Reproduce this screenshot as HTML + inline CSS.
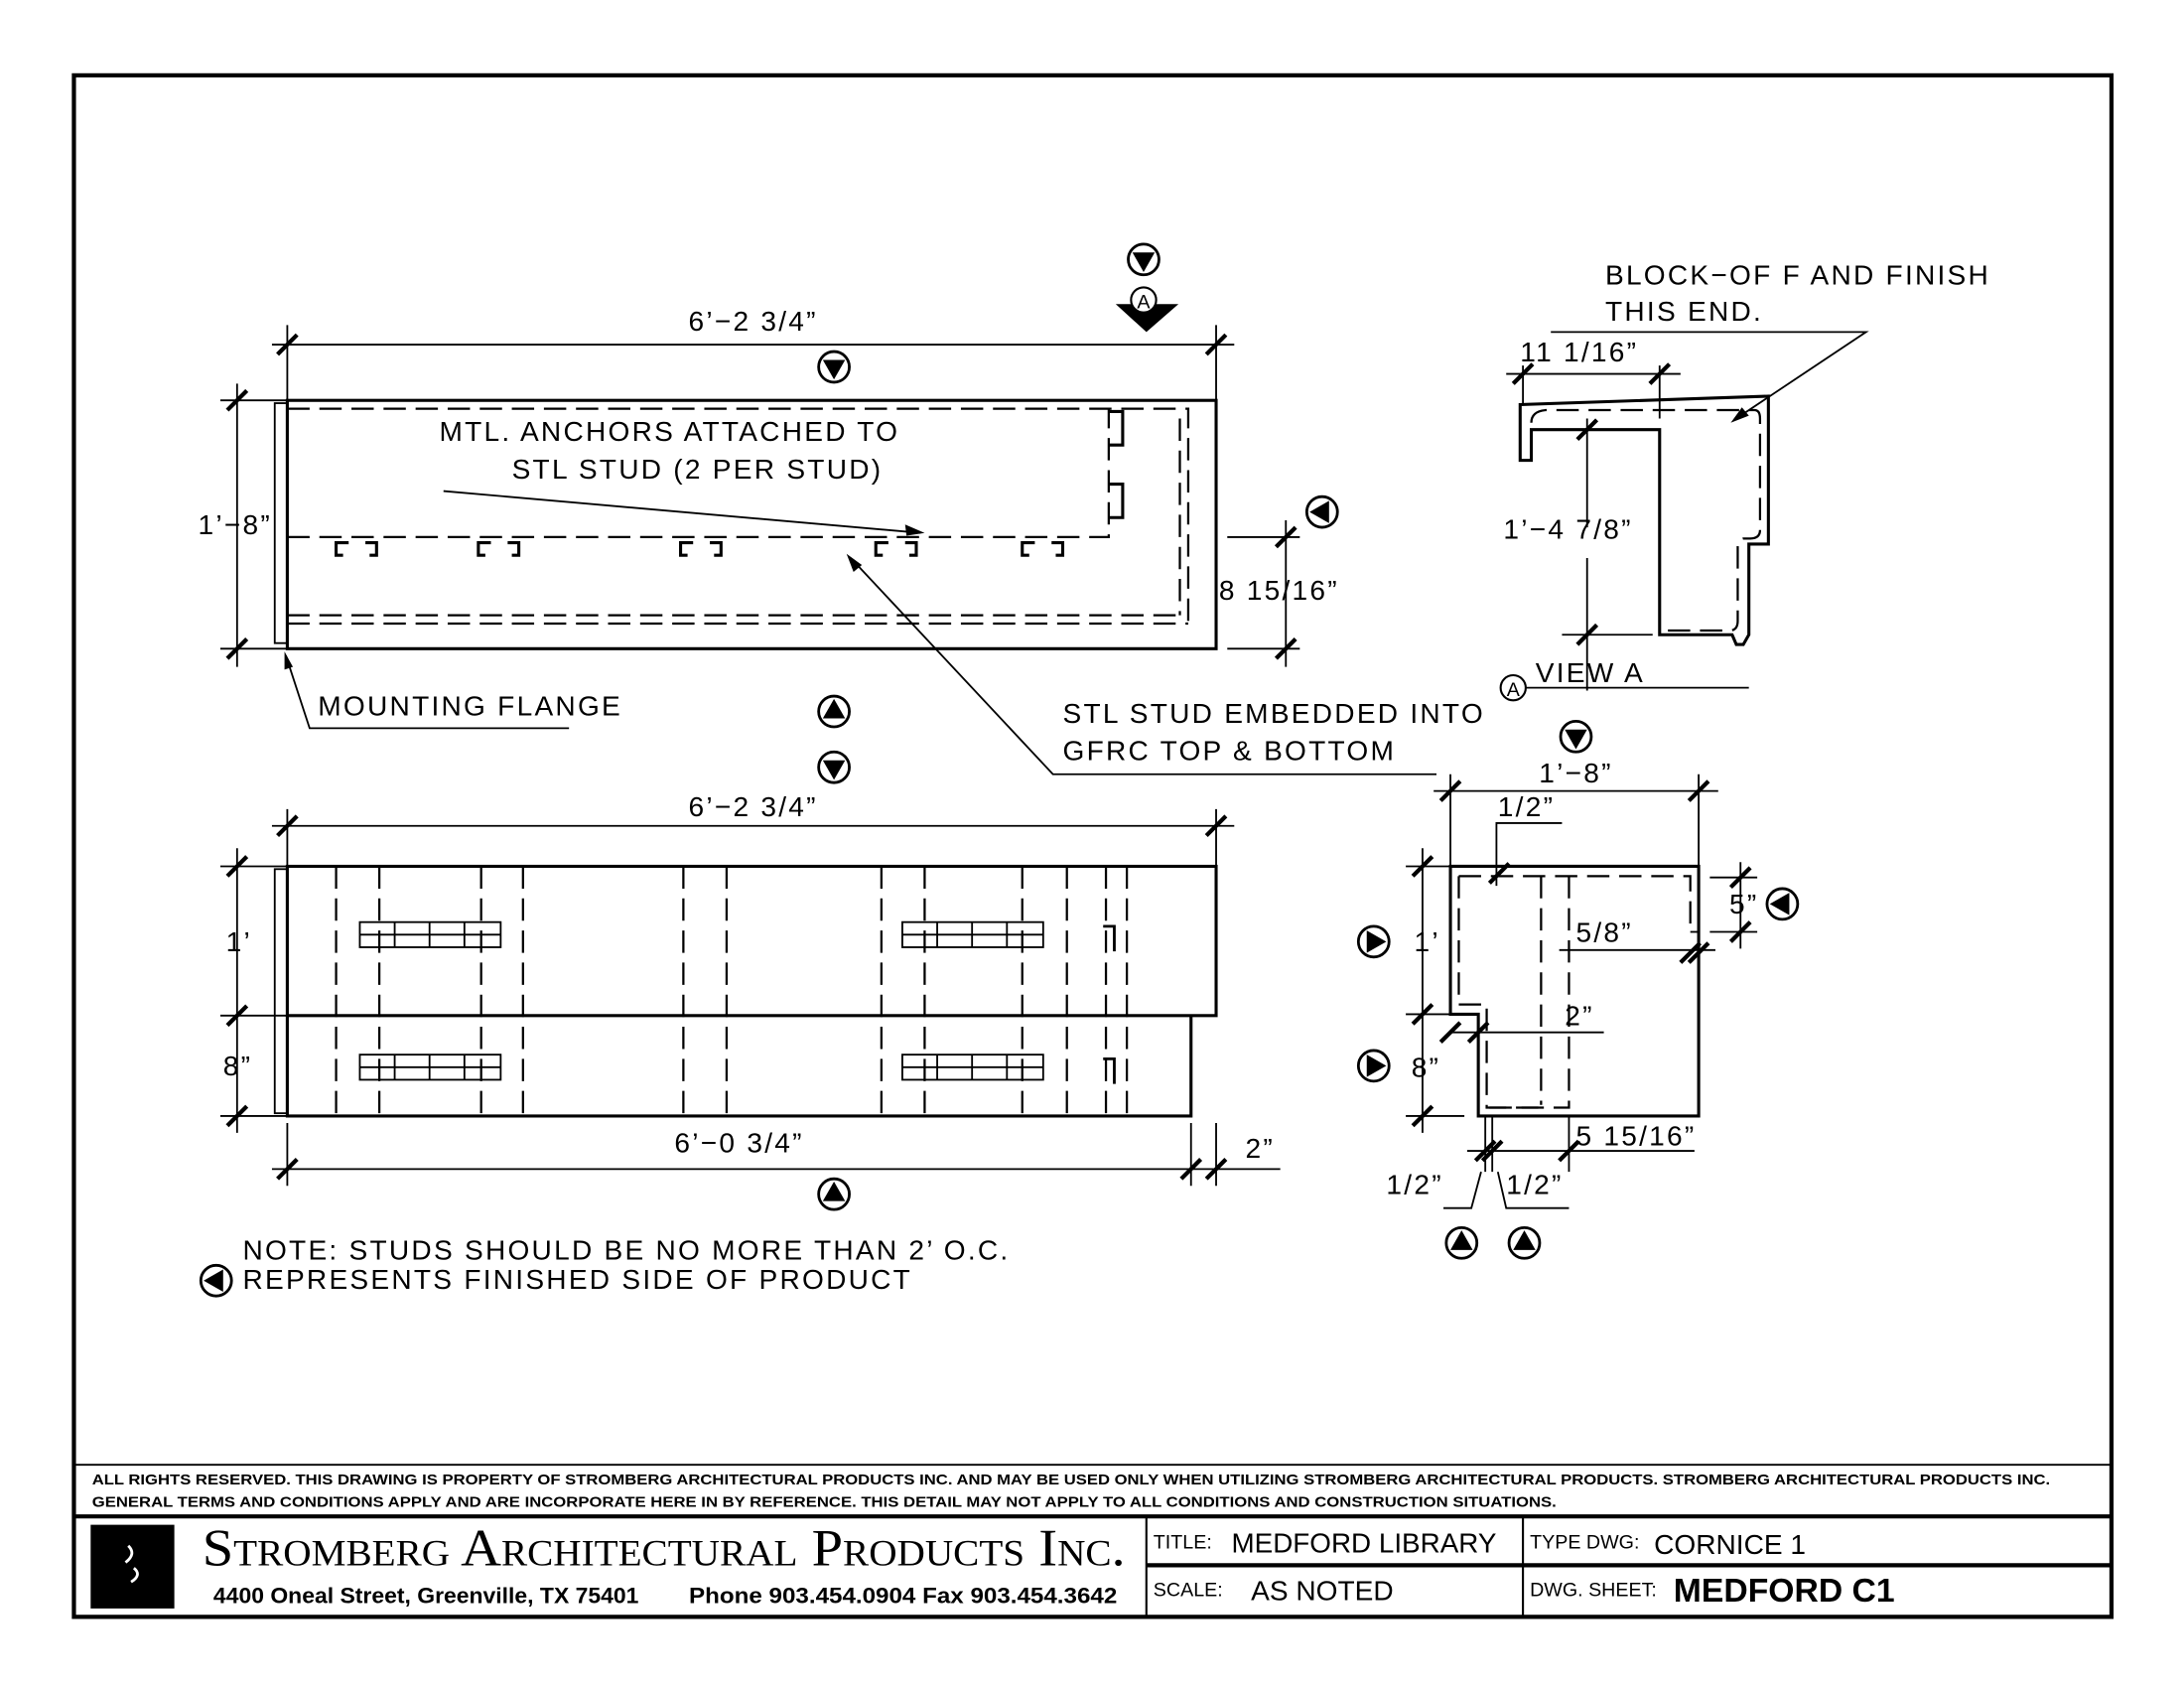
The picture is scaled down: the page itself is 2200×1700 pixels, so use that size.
<!DOCTYPE html>
<html><head><meta charset="utf-8"><style>
html,body{margin:0;padding:0;background:#fff}
svg{display:block}
text{font-family:"Liberation Sans",sans-serif;fill:#000}
.t{font-size:20px;letter-spacing:1.6px}
.k{stroke:#000;fill:none;stroke-width:1.3}
.b{stroke:#000;fill:none;stroke-width:2.2}
.d{stroke:#000;fill:none;stroke-width:1.6;stroke-dasharray:16 7}
.tk{stroke:#000;stroke-width:3}
</style></head><body>
<svg width="2200" height="1700" viewBox="0 0 1566 1210" preserveAspectRatio="none" xmlns="http://www.w3.org/2000/svg">
<defs>
<g id="cd"><circle r="11" fill="#fff" stroke="#000" stroke-width="2"/><path d="M-8,-5 L8,-5 L0,9 Z" fill="#000"/></g>
<g id="cu"><circle r="11" fill="#fff" stroke="#000" stroke-width="2"/><path d="M-8,5 L8,5 L0,-9 Z" fill="#000"/></g>
<g id="cl"><circle r="11" fill="#fff" stroke="#000" stroke-width="2"/><path d="M5,-8 L5,8 L-9,0 Z" fill="#000"/></g>
<g id="cr"><circle r="11" fill="#fff" stroke="#000" stroke-width="2"/><path d="M-5,-8 L-5,8 L9,0 Z" fill="#000"/></g>
<path id="tk" d="M-7,7 L7,-7" stroke="#000" stroke-width="3"/>
</defs>
<rect x="53" y="54" width="1461" height="1105" fill="none" stroke="#000" stroke-width="3"/>

<!-- TOP VIEW -->
<rect x="206" y="287" width="666" height="178" class="b"/>
<rect x="197" y="289" width="9" height="172" class="k"/>
<path d="M206,293 H852 V447" class="d"/>
<path d="M846,300 V441" class="d"/>
<path d="M206,441 H846 M206,447 H852" class="d"/>
<path d="M206,385 H795 V293" class="d"/>
<path d="M795,295 h10 v24 h-10 M795,347 h10 v24 h-10" class="b"/>
<g class="b">
<path d="M250,389 h-9 v9 h5 M262,389 h8 v9 h-5"/>
<path d="M352,389 h-9 v9 h5 M364,389 h8 v9 h-5"/>
<path d="M497,389 h-9 v9 h5 M509,389 h8 v9 h-5"/>
<path d="M637,389 h-9 v9 h5 M649,389 h8 v9 h-5"/>
<path d="M742,389 h-9 v9 h5 M754,389 h8 v9 h-5"/>
</g>
<path d="M195,247 H885 M206,233 V287 M872,233 V287" class="k"/>
<use href="#tk" x="206" y="247"/><use href="#tk" x="872" y="247"/>
<text x="540" y="237" class="t" text-anchor="middle">6’−2 3/4”</text>
<use href="#cd" x="598" y="263"/>
<use href="#cd" x="820" y="186"/>
<path d="M800,218 H845 L822,238 Z" fill="#000"/>
<circle cx="820" cy="215" r="9" fill="#fff" stroke="#000" stroke-width="1.5"/>
<text x="820" y="221" font-size="14" text-anchor="middle">A</text>
<path d="M170,275 V478 M158,287 H206 M158,465 H206" class="k"/>
<use href="#tk" x="170" y="287"/><use href="#tk" x="170" y="465"/>
<text x="142" y="383" class="t">1’−8”</text>
<path d="M922,373 V478 M880,385 H932 M880,465 H932" class="k"/>
<use href="#tk" x="922" y="385"/><use href="#tk" x="922" y="465"/>
<text x="874" y="430" class="t">8 15/16”</text>
<use href="#cl" x="948" y="367"/>
<text x="315" y="316" class="t">MTL. ANCHORS ATTACHED TO</text>
<text x="367" y="343" class="t">STL STUD (2 PER STUD)</text>
<path d="M318,352 L660,382" class="k"/><path d="M663,382 l-14,-6 l1,8 z" fill="#000"/>
<text x="762" y="518" class="t">STL STUD EMBEDDED INTO</text>
<text x="762" y="545" class="t">GFRC TOP &amp; BOTTOM</text>
<path d="M1030,555 H755 L610,400" class="k"/><path d="M607,397 l5,13 l6,-5 z" fill="#000"/>
<path d="M205,470 L222,522 H408" class="k"/><path d="M204,467 l0,13 l6,-2 z" fill="#000"/>
<text x="228" y="513" class="t">MOUNTING FLANGE</text>
<use href="#cu" x="598" y="510"/>
<use href="#cd" x="598" y="550"/>

<!-- BOTTOM VIEW -->
<rect x="206" y="621" width="666" height="107" class="b"/>
<path d="M206,728 V800 H854 V728" class="b"/>
<rect x="197" y="623" width="9" height="175" class="k"/>
<g class="d" stroke-dasharray="16 9">
<path d="M241,621 V800 M272,621 V800 M345,621 V800 M375,621 V800 M490,621 V800 M521,621 V800 M632,621 V800 M663,621 V800 M733,621 V800 M765,621 V800 M793,621 V800 M808,621 V800"/>
</g>
<g class="k">
<rect x="258" y="661" width="101" height="18"/><path d="M258,670 H359 M283,661 V679 M308,661 V679 M333,661 V679"/>
<rect x="647" y="661" width="101" height="18"/><path d="M647,670 H748 M672,661 V679 M697,661 V679 M722,661 V679"/>
<rect x="258" y="756" width="101" height="18"/><path d="M258,765 H359 M283,756 V774 M308,756 V774 M333,756 V774"/>
<rect x="647" y="756" width="101" height="18"/><path d="M647,765 H748 M672,756 V774 M697,756 V774 M722,756 V774"/>
<path d="M791,664 h8 v18 M791,759 h8 v18" stroke-width="2"/>
</g>
<path d="M195,592 H885 M206,580 V621 M872,580 V621" class="k"/>
<use href="#tk" x="206" y="592"/><use href="#tk" x="872" y="592"/>
<text x="540" y="585" class="t" text-anchor="middle">6’−2 3/4”</text>
<path d="M170,608 V812 M158,621 H206 M158,728 H206 M158,800 H206" class="k"/>
<use href="#tk" x="170" y="621"/><use href="#tk" x="170" y="728"/><use href="#tk" x="170" y="800"/>
<text x="162" y="682" class="t">1’</text>
<text x="160" y="771" class="t">8”</text>
<path d="M195,838 H918 M206,805 V850 M854,805 V850 M872,805 V850" class="k"/>
<use href="#tk" x="206" y="838"/><use href="#tk" x="854" y="838"/><use href="#tk" x="872" y="838"/>
<text x="530" y="826" class="t" text-anchor="middle">6’−0 3/4”</text>
<text x="893" y="830" class="t">2”</text>
<use href="#cu" x="598" y="856"/>
<text x="174" y="903" class="t">NOTE: STUDS SHOULD BE NO MORE THAN 2’ O.C.</text>
<use href="#cl" x="155" y="918"/>
<text x="174" y="924" class="t">REPRESENTS FINISHED SIDE OF PRODUCT</text>

<!-- VIEW A -->
<path d="M1090,330 V290 L1268,284 V390 H1254 V455 L1250,462 H1245 L1242,455 H1190 V308 H1098 V330 Z" class="b"/>
<path d="M1098,303 Q1098,295 1108,294 H1258 Q1262,294 1262,300 V380 Q1262,386 1255,386 H1250 Q1246,387 1246,392 V445 Q1246,452 1240,452 H1192" class="d" stroke-dasharray="12 6"/>
<path d="M1080,268 H1205 M1092,262 V290 M1190,262 V300" class="k"/>
<use href="#tk" x="1092" y="268"/><use href="#tk" x="1190" y="268"/>
<text x="1090" y="259" class="t">11 1/16”</text>
<path d="M1138,300 V378 M1138,400 V495 M1120,455 H1185" class="k"/>
<use href="#tk" x="1138" y="308"/><use href="#tk" x="1138" y="455"/>
<text x="1078" y="386" class="t">1’−4 7/8”</text>
<text x="1151" y="204" class="t">BLOCK−OF F AND FINISH</text>
<text x="1151" y="230" class="t">THIS END.</text>
<path d="M1112,238 H1338 L1245,300" class="k"/><path d="M1241,303 l13,-5 l-5,-6 z" fill="#000"/>
<circle cx="1085" cy="493" r="9" fill="#fff" stroke="#000" stroke-width="1.5"/>
<text x="1085" y="499" font-size="14" text-anchor="middle">A</text>
<text x="1101" y="489" class="t">VIEW A</text>
<path d="M1094,493 H1254" class="k"/>

<!-- SECTION -->
<path d="M1040,621 H1218 V800 H1060 V727 H1040 Z" class="b"/>
<path d="M1046,628 H1212 V668" class="d" stroke-dasharray="14 6"/>
<path d="M1046,628 V720 H1066 V794 H1106" class="d" stroke-dasharray="14 6"/>
<path d="M1105,628 V792 M1125,628 V794 H1066" class="d" stroke-dasharray="14 6"/>
<path d="M1212,668 H1218" class="k"/>
<path d="M1028,567 H1232 M1040,555 V621 M1218,555 V621" class="k"/>
<use href="#tk" x="1040" y="567"/><use href="#tk" x="1218" y="567"/>
<text x="1130" y="561" class="t" text-anchor="middle">1’−8”</text>
<use href="#cd" x="1130" y="528"/>
<text x="1074" y="585" class="t">1/2”</text>
<path d="M1120,590 H1073 V635" class="k"/><use href="#tk" x="1075" y="626"/>
<path d="M1020,608 V812 M1008,621 H1040 M1008,727 H1040 M1008,800 H1050" class="k"/>
<use href="#tk" x="1020" y="621"/><use href="#tk" x="1020" y="727"/><use href="#tk" x="1020" y="800"/>
<text x="1014" y="682" class="t">1’</text>
<text x="1012" y="772" class="t">8”</text>
<use href="#cr" x="985" y="675"/><use href="#cr" x="985" y="764"/>
<path d="M1226,629 H1260 M1226,668 H1260 M1248,618 V680" class="k"/>
<use href="#tk" x="1248" y="629"/><use href="#tk" x="1248" y="668"/>
<text x="1240" y="655" class="t">5”</text>
<use href="#cl" x="1278" y="648"/>
<text x="1130" y="675" class="t">5/8”</text>
<path d="M1118,681 H1230" class="k"/><use href="#tk" x="1212" y="683"/><use href="#tk" x="1218" y="683"/>
<text x="1122" y="735" class="t">2”</text>
<path d="M1040,740 H1150" class="k"/><use href="#tk" x="1040" y="740"/><use href="#tk" x="1060" y="740"/>
<text x="1130" y="821" class="t">5 15/16”</text>
<path d="M1065,800 V840 M1070,800 V840 M1125,800 V840 M1052,825 H1215" class="k"/>
<use href="#tk" x="1065" y="825"/><use href="#tk" x="1070" y="825"/><use href="#tk" x="1125" y="825"/>
<text x="994" y="856" class="t">1/2”</text>
<text x="1080" y="856" class="t">1/2”</text>
<path d="M1035,866 H1055 L1062,840 M1125,866 H1080 L1074,840" class="k"/>
<use href="#cu" x="1048" y="891"/><use href="#cu" x="1093" y="891"/>

<!-- TITLE BLOCK -->
<path d="M53,1050 H1514" class="k"/>
<text x="66" y="1064" font-size="10.5" font-weight="bold" textLength="1404" lengthAdjust="spacingAndGlyphs">ALL RIGHTS RESERVED. THIS DRAWING IS PROPERTY OF STROMBERG ARCHITECTURAL PRODUCTS INC. AND MAY BE USED ONLY WHEN UTILIZING STROMBERG ARCHITECTURAL PRODUCTS.  STROMBERG ARCHITECTURAL PRODUCTS INC.</text>
<text x="66" y="1080" font-size="10.5" font-weight="bold" textLength="1050" lengthAdjust="spacingAndGlyphs">GENERAL TERMS AND CONDITIONS APPLY AND ARE INCORPORATE HERE IN BY REFERENCE.  THIS DETAIL MAY NOT APPLY TO ALL CONDITIONS AND CONSTRUCTION SITUATIONS.</text>
<path d="M53,1087 H1514" stroke="#000" stroke-width="3"/>
<path d="M822,1087 V1159 M1092,1087 V1159" stroke="#000" stroke-width="1.5"/>
<path d="M822,1122 H1514" stroke="#000" stroke-width="3"/>
<rect x="65" y="1093" width="60" height="60" fill="#000"/>
<path d="M92,1108 q6,6 -2,12 M96,1124 q6,5 -2,10" stroke="#fff" stroke-width="2" fill="none"/>
<text x="145" y="1122" font-size="38" style="font-family:'Liberation Serif',serif;font-variant:small-caps" textLength="662" lengthAdjust="spacingAndGlyphs">Stromberg Architectural Products Inc.</text>
<text x="153" y="1149" font-size="16" font-weight="bold" textLength="305" lengthAdjust="spacingAndGlyphs">4400 Oneal Street, Greenville, TX  75401</text>
<text x="494" y="1149" font-size="16" font-weight="bold" textLength="307" lengthAdjust="spacingAndGlyphs">Phone 903.454.0904   Fax 903.454.3642</text>
<text x="827" y="1110" font-size="14">TITLE:</text>
<text x="883" y="1113" font-size="20" textLength="190" lengthAdjust="spacingAndGlyphs">MEDFORD LIBRARY</text>
<text x="1097" y="1110" font-size="14">TYPE DWG:</text>
<text x="1186" y="1114" font-size="20">CORNICE 1</text>
<text x="827" y="1144" font-size="14">SCALE:</text>
<text x="897" y="1147" font-size="20">AS NOTED</text>
<text x="1097" y="1144" font-size="14">DWG. SHEET:</text>
<text x="1200" y="1148" font-size="24" font-weight="bold">MEDFORD C1</text>
</svg>
</body></html>
